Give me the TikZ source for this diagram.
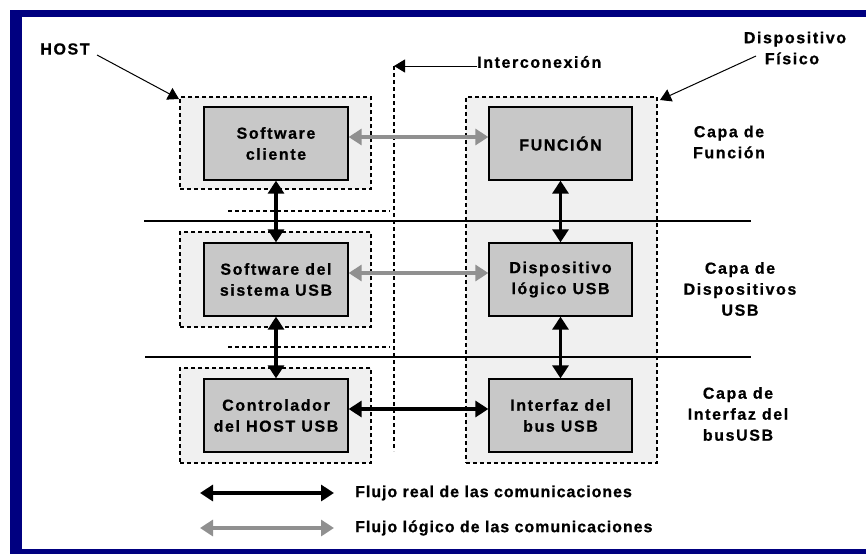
\documentclass[tikz,border=0pt]{standalone}
\usepackage{fontspec}
\setmainfont{Liberation Sans}
\newfontfamily\bxf{Liberation Sans}[LetterSpace=10, BoldFeatures={FakeBold=0.8}]
\newfontfamily\lgf{Liberation Sans}[LetterSpace=6, BoldFeatures={FakeBold=0.8}]
\usetikzlibrary{arrows.meta}
\definecolor{navyb}{RGB}{0,0,128}
\definecolor{boxg}{RGB}{200,200,200}
\definecolor{bgg}{RGB}{240,240,240}
\definecolor{flowg}{RGB}{144,144,144}
\tikzset{
  inner/.style={draw=black, line width=1.3pt, fill=boxg, minimum width=144pt, minimum height=73pt, align=center, inner sep=0pt, font=\bxf\bfseries\fontsize{16}{21}\selectfont},
  outer/.style={draw=black, line width=1.4pt, dash pattern=on 4pt off 3pt, fill=bgg, minimum width=191pt, inner sep=0pt},
  lbl/.style={align=center, inner sep=0pt, font=\bxf\bfseries\fontsize{16}{21}\selectfont},
  lgd/.style={anchor=west, inner sep=0pt, font=\lgf\bfseries\fontsize{16}{20}\selectfont},
  real/.style={line width=3.2pt, {Triangle[length=13pt,width=16pt]}-{Triangle[length=13pt,width=16pt]}},
  logic/.style={line width=3.2pt, draw=flowg, {Triangle[length=13pt,width=16pt]}-{Triangle[length=13pt,width=16pt]}},
  thin/.style={line width=1pt, -{Triangle[length=11pt,width=13pt]}},
  dsh/.style={line width=1.4pt, dash pattern=on 4pt off 3pt},
  layer/.style={line width=1.4pt}
}
\begin{document}
\begin{tikzpicture}[x=1pt,y=-1pt]
\useasboundingbox (0,0) rectangle (866,554);
% frame
\fill[navyb] (10,10) rectangle (866,17);
\fill[navyb] (10,10) rectangle (22,554);
\fill[navyb] (10,549) rectangle (866,554);

% outer containers
\node[outer, minimum height=92pt] (o1) at (275.5,143) {};
\node[outer, minimum height=95pt] (o2) at (275.5,279.5) {};
\node[outer, minimum height=95pt] (o3) at (275.5,415.5) {};
\node[outer, minimum height=366pt] (od) at (561.5,280) {};

% layer lines
\coordinate (l1a) at (144,221); \coordinate (l1b) at (751,221);
\coordinate (l2a) at (145,357); \coordinate (l2b) at (751,357);
\draw[layer] (l1a) -- (l1b);
\draw[layer] (l2a) -- (l2b);

% dashed interconnection
\coordinate (ic) at (394,66);
\coordinate (icb) at (394,451);
\draw[dsh] (ic) -- (icb);
\coordinate (d1a) at (228,211); \coordinate (d1b) at (390,211);
\coordinate (d2a) at (228,347); \coordinate (d2b) at (390,347);
\draw[dsh] (d1a) -- (d1b);
\draw[dsh] (d2a) -- (d2b);

% inner boxes
\node[inner] (sc) at (276,143.5) {Software\\cliente};
\node[inner] (ss) at (276,279.5) {Software del\\sistema USB};
\node[inner] (ch) at (276,415.5) {Controlador\\del HOST USB};
\node[inner, minimum width=143pt] (fn) at (560.5,143.5) {FUNCIÓN};
\node[inner, minimum width=143pt] (dl) at (560.5,279.5) {Dispositivo\\lógico USB};
\node[inner, minimum width=143pt] (ib) at (560.5,415.5) {Interfaz del\\bus USB};

% flows
\draw[logic] ([yshift=6.5pt]sc.east) -- ([yshift=6.5pt]fn.west);
\draw[logic] ([yshift=6.5pt]ss.east) -- ([yshift=6.5pt]dl.west);
\draw[real] ([yshift=6.5pt]ch.east) -- ([yshift=6.5pt]ib.west);
\draw[real] (sc.south) -- (ss.north);
\draw[real] (ss.south) -- (ch.north);
\draw[real] (fn.south) -- (dl.north);
\draw[real] (dl.south) -- (ib.north);

% labels
\node[lbl] (host) at (65,49) {HOST};
\coordinate (hostt) at (179,99);
\draw[thin] (97,55) -- (hostt);
\node[lbl, anchor=west] (icl) at (477,62) {Interconexión};
\draw[thin] (icl.west |- ic) -- (ic);
\node[lbl] (df) at (795,48) {Dispositivo\\\hspace*{-6pt}Físico};
\coordinate (dft) at (660,100);
\draw[thin] (756,56) -- (dft);

\node[lbl] (c1) at (729,142) {Capa de\\Función};
\node[lbl] (c2) at (740,289) {Capa de\\Dispositivos\\USB};
\node[lbl] (c3) at (738,414) {Capa de\\Interfaz del\\busUSB};

% legend
\coordinate (la) at (200,493); \coordinate (lb) at (334,493);
\coordinate (lc) at (200,528); \coordinate (ld) at (334,528);
\draw[real] (la) -- (lb);
\draw[logic] (lc) -- (ld);
\node[lgd] (t1) at (355,493) {Flujo real de las comunicaciones};
\node[lgd] (t2) at (355,528) {Flujo lógico de las comunicaciones};
\end{tikzpicture}
\end{document}
